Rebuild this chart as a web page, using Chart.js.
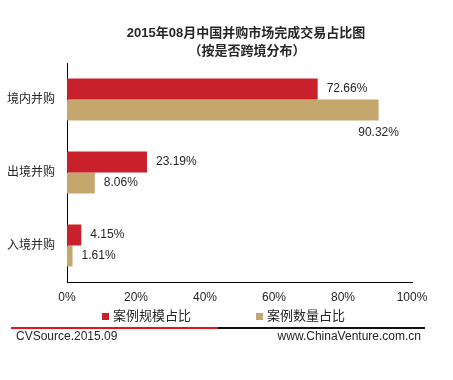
<!DOCTYPE html>
<html><head><meta charset="utf-8">
<script src="https://cdn.jsdelivr.net/npm/chart.js@4/dist/chart.umd.min.js"></script>
<style>html,body{margin:0;padding:0;background:#fff;}canvas{display:block;}</style>
</head><body>
<canvas id="c" width="453" height="380"></canvas>
<script>
const titleLines = ['2015年08月中国并购市场完成交易占比图', '（按是否跨境分布）'];
const categories = ['境内并购', '出境并购', '入境并购'];
const seriesNames = ['案例规模占比', '案例数量占比'];
const scaleShare = [72.66, 23.19, 4.15];
const countShare = [90.32, 8.06, 1.61];
const xTicks = [0, 20, 40, 60, 80, 100];
const sourceText = 'CVSource.2015.09';
const siteText = 'www.ChinaVenture.com.cn';
const colors = ['#C9212B', '#C5A76E'];

const FONT = '"Liberation Sans", Arial, "Noto Sans CJK SC", sans-serif';
const TXT = '#262626';

const decor = {
  id: 'decor',
  afterDraw(chart) {
    const ctx = chart.ctx;
    const area = chart.chartArea;
    ctx.save();
    // title
    ctx.fillStyle = TXT;
    ctx.textAlign = 'center';
    ctx.textBaseline = 'middle';
    ctx.font = 'bold 13px ' + FONT;
    ctx.fillText(titleLines[0], 246, 33);
    ctx.fillText(titleLines[1], 247, 51);
    // data labels
    ctx.font = '12px ' + FONT;
    chart.data.datasets.forEach((ds, di) => {
      const meta = chart.getDatasetMeta(di);
      meta.data.forEach((el, i) => {
        const txt = ds.data[i].toFixed(2) + '%';
        const w = ctx.measureText(txt).width;
        if (el.x + 9 + w > area.right) {
          ctx.textAlign = 'center';
          ctx.fillText(txt, el.x, el.y + el.height / 2 + 12);
        } else {
          ctx.textAlign = 'left';
          ctx.fillText(txt, el.x + 9, el.y);
        }
      });
    });
    // legend
    ctx.font = '13px ' + FONT;
    ctx.textAlign = 'left';
    const legX = [102, 256];
    chart.data.datasets.forEach((ds, di) => {
      ctx.fillStyle = ds.backgroundColor;
      ctx.fillRect(legX[di], 313, 7, 7);
      ctx.fillStyle = TXT;
      ctx.fillText(ds.label, legX[di] + 11, 316);
    });
    // footer line
    ctx.fillStyle = '#E8121B';
    ctx.fillRect(11, 327, 207, 2);
    ctx.fillStyle = '#111';
    ctx.fillRect(218, 327, 207, 2);
    ctx.fillStyle = TXT;
    ctx.font = '12px ' + FONT;
    ctx.textAlign = 'left';
    ctx.fillText(sourceText, 16, 337);
    ctx.textAlign = 'right';
    ctx.fillText(siteText, 421, 337);
    ctx.restore();
  }
};

new Chart(document.getElementById('c'), {
  type: 'bar',
  data: {
    labels: categories,
    datasets: [
      { label: seriesNames[0], data: scaleShare, backgroundColor: colors[0], barPercentage: 1, categoryPercentage: 0.575 },
      { label: seriesNames[1], data: countShare, backgroundColor: colors[1], barPercentage: 1, categoryPercentage: 0.575 }
    ]
  },
  options: {
    indexAxis: 'y',
    responsive: false,
    devicePixelRatio: 1,
    animation: false,
    layout: { padding: { left: 0, top: 63, right: 41, bottom: 70 } },
    plugins: { legend: { display: false }, title: { display: false }, tooltip: { enabled: false } },
    scales: {
      x: {
        min: 0, max: 100,
        afterBuildTicks(scale) { scale.ticks = xTicks.map(v => ({ value: v })); },
        afterFit(scale) { scale.height = 28; },
        grid: { display: false, drawTicks: false },
        border: { color: '#000', width: 1 },
        ticks: { padding: 8, color: TXT, font: { size: 12, family: FONT }, callback: v => v + '%', maxRotation: 0 }
      },
      y: {
        afterFit(scale) { scale.width = 67; },
        grid: { display: false, drawTicks: false },
        border: { color: '#000', width: 1 },
        ticks: { padding: 12, color: TXT, font: { size: 12, family: FONT } }
      }
    }
  },
  plugins: [decor]
});
</script>
</body></html>
